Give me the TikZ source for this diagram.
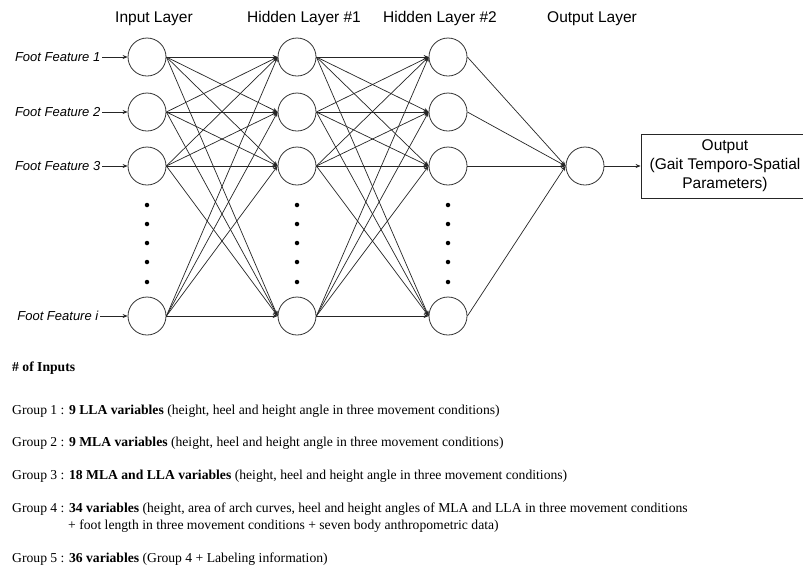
\documentclass[tikz,border=0pt]{standalone}
\usepackage{fontspec}
\setmainfont{Liberation Serif}
\newfontfamily\arialf{Liberation Sans}
\usetikzlibrary{arrows.meta}
\begin{document}
\begin{tikzpicture}[x=1pt,y=-1pt,
 neuron/.style={circle,draw=black!80,line width=0.8pt,minimum size=38pt,inner sep=0pt,fill=white},
 conn/.style={draw=black!85,line width=0.7pt,-{Stealth[length=5pt,width=4pt]}},
 title/.style={font=\arialf\fontsize{15.5}{18}\selectfont},
 feat/.style={font=\arialf\itshape\fontsize{13}{15}\selectfont,anchor=east,inner sep=1.5pt},
 dotm/.style={circle,fill=black,inner sep=0pt,minimum size=4.5pt},
 outbox/.style={draw=black!85,line width=0.8pt,minimum width=168pt,minimum height=64pt,align=center,font=\arialf\fontsize{15.5}{19}\selectfont},
 grp/.style={anchor=west,font=\fontsize{13.65}{17}\selectfont,inner sep=0pt,align=left}
]
\clip (0,0) rectangle (803,566);
\fill[white] (0,0) rectangle (803,566);
% titles
\node[title] (t1) at (154,18.5) {Input Layer};
\node[title] (t2) at (304,18.5) {Hidden Layer \#1};
\node[title] (t3) at (440,18.5) {Hidden Layer \#2};
\node[title] (t4) at (592,18.5) {Output Layer};
% neurons
\foreach \l/\x in {i/147,h/297,g/448}{
  \foreach \r/\y in {1/57,2/112,3/166,4/316}{
    \node[neuron] (\l\r) at (\x,\y) {};
  }
  \foreach \k/\y in {1/205,2/224,3/243,4/262,5/282}{
    \node[dotm] (\l d\k) at (\x,\y) {};
  }
}
\node[neuron] (o) at (585,166) {};
% connections
\foreach \a in {1,...,4}{
  \foreach \b in {1,...,4}{
    \draw[conn] (i\a.east) -- (h\b.west);
    \draw[conn] (h\a.east) -- (g\b.west);
  }
  \draw[conn] (g\a.east) -- (o.west);
}
% inputs
\node[feat] (f1) at (102,57) {Foot Feature 1};
\node[feat] (f2) at (102,112) {Foot Feature 2};
\node[feat] (f3) at (102,166) {Foot Feature 3};
\node[feat] (f4) at (100,316) {Foot Feature \textit{i}};
\foreach \r in {1,...,4}{\draw[conn] (f\r.east) -- (i\r.west);}
% output box
\node[outbox] (out) at (725,166) {Output\\(Gait Temporo-Spatial\\Parameters)};
\draw[conn] (o.east) -- (out.west);
% text
\node[grp] (n0) at (12,368) {\textbf{\# of Inputs}};
\node[grp] (n1) at (12,411) {Group 1 : \textbf{9 LLA variables} (height, heel and height angle in three movement conditions)};
\node[grp] (n2) at (12,443) {Group 2 : \textbf{9 MLA variables} (height, heel and height angle in three movement conditions)};
\node[grp] (n3) at (12,476) {Group 3 : \textbf{18 MLA and LLA variables} (height, heel and height angle in three movement conditions)};
\node[grp] (n4) at (12,509) {Group 4 : \textbf{34 variables} (height, area of arch curves, heel and height angles of MLA and LLA in three movement conditions};
\node[grp] (n4b) at (68,526) {+ foot length in three movement conditions + seven body anthropometric data)};
\node[grp] (n5) at (12,559) {Group 5 : \textbf{36 variables} (Group 4 + Labeling information)};
\end{tikzpicture}
\end{document}
